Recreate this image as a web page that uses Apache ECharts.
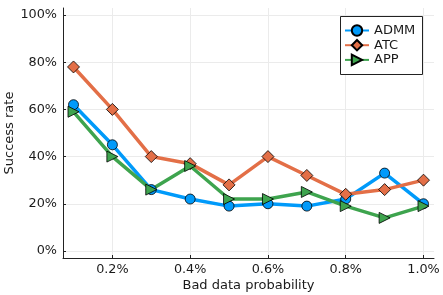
<!DOCTYPE html>
<html><head><meta charset="utf-8">
<script src="https://cdn.jsdelivr.net/npm/echarts@6/dist/echarts.min.js"></script>
<style>html,body{margin:0;padding:0;background:#fff}#c{width:443px;height:295px}</style>
</head><body><div id="c"></div>
<script>
const xValues = [0.1, 0.2, 0.3, 0.4, 0.5, 0.6, 0.7, 0.8, 0.9, 1.0];
const admm = [62, 45, 26, 22, 19, 20, 19, 22, 33, 20];
const atc = [78, 60, 40, 37, 28, 40, 32, 24, 26, 30];
const app = [59, 40, 26, 36, 22, 22, 25, 19, 14, 19];
const xTicks = [0.2, 0.4, 0.6, 0.8, 1.0];
const yTicks = [0, 20, 40, 60, 80, 100];

const pair = arr => xValues.map((x, i) => [x, arr[i]]);
const font = 'DejaVu Sans';
const txt = '#1a1a1a';
const chart = echarts.init(document.getElementById('c'), null, {renderer: 'canvas'});
const mk = (name, data, color, symbol, size, rot) => ({
  name, type: 'line', data: pair(data), symbol, symbolSize: size, symbolRotate: rot || 0,
  lineStyle: {color, width: 3.5}, itemStyle: {color, borderColor: '#000', borderWidth: 0.8},
  emphasis: {disabled: true}, animation: false
});
chart.setOption({
  animation: false,
  textStyle: {fontFamily: font},
  grid: {left: 63, right: 9, top: 8, bottom: 37, outerBoundsMode: 'none', containLabel: false},
  graphic: [{
    type: 'rect', left: 340, top: 16, z: 10,
    shape: {width: 82, height: 58},
    style: {fill: '#fff', stroke: '#222', lineWidth: 1}
  }],
  legend: {
    left: 344, top: 24, orient: 'vertical', z: 20,
    padding: 0, borderWidth: 0,
    itemWidth: 24, itemHeight: 13, itemGap: 1.7,
    textStyle: {fontFamily: font, fontSize: 13, color: txt},
    data: ['ADMM', 'ATC', 'APP']
  },
  xAxis: {
    type: 'value', min: 0.073, max: 1.027,
    name: 'Bad data probability', nameLocation: 'middle', nameGap: 21, nameMoveOverlap: false,
    nameTextStyle: {fontFamily: font, fontSize: 13, color: txt},
    axisLine: {onZero: false, lineStyle: {color: '#222', width: 1}},
    axisTick: {show: true, inside: true, length: 3, customValues: xTicks, lineStyle: {color: '#222'}},
    axisLabel: {customValues: xTicks, formatter: v => v.toFixed(1) + '%', fontFamily: font, fontSize: 12.8, color: txt, margin: 5},
    splitLine: {show: true, lineStyle: {color: '#ebebeb', width: 1}}
  },
  yAxis: {
    type: 'value', min: -3, max: 103,
    name: 'Success rate', nameLocation: 'middle', nameGap: 47, nameMoveOverlap: false,
    nameTextStyle: {fontFamily: font, fontSize: 13, color: txt},
    axisLine: {show: true, lineStyle: {color: '#222', width: 1}},
    axisTick: {show: true, inside: true, length: 3, customValues: yTicks, lineStyle: {color: '#222'}},
    axisLabel: {customValues: yTicks, formatter: v => Math.round(v) + '%', fontFamily: font, fontSize: 12.8, color: txt, margin: 6},
    splitLine: {show: true, lineStyle: {color: '#ebebeb', width: 1}}
  },
  series: [
    mk('ADMM', admm, '#009AFA', 'circle', 10),
    mk('ATC', atc, '#E36F47', 'diamond', 12),
    mk('APP', app, '#3EA44E', 'triangle', 11, -90)
  ]
});
</script></body></html>
